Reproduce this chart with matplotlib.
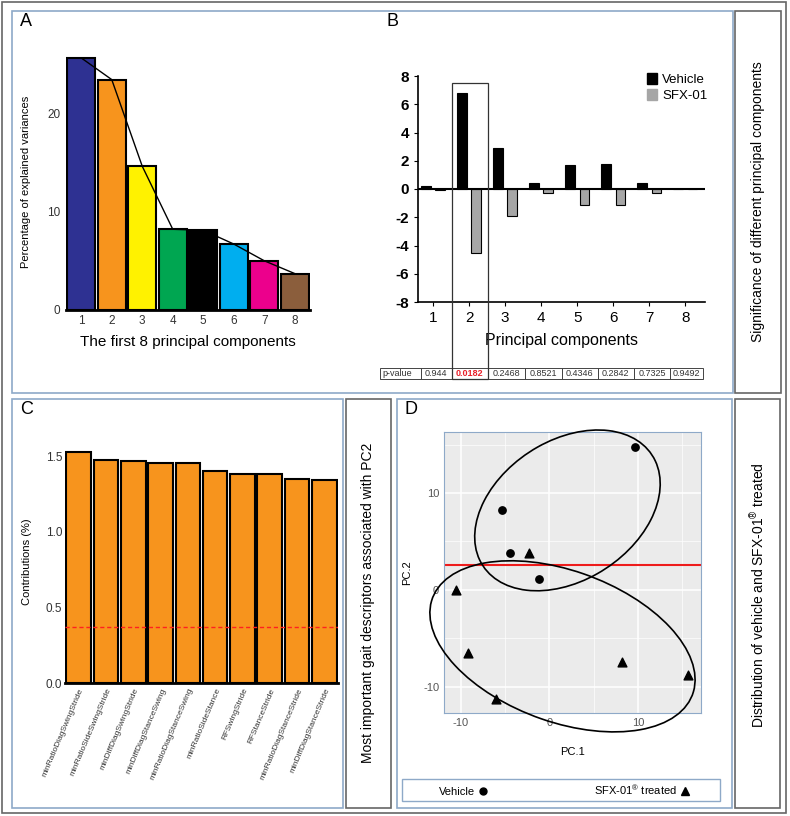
import numpy as np
import matplotlib
matplotlib.use("Agg")
import matplotlib.pyplot as plt
from matplotlib.patches import Rectangle, Ellipse, Patch
from matplotlib.lines import Line2D

plt.rcParams['font.family'] = ['Liberation Sans', 'DejaVu Sans']
plt.rcParams['axes.unicode_minus'] = False
plt.rcParams['mathtext.fontset'] = 'custom'
plt.rcParams['mathtext.rm'] = 'Liberation Sans'

# ---- data ----
pcs = [1, 2, 3, 4, 5, 6, 7, 8]
var_pct = [25.6, 23.4, 14.6, 8.2, 8.1, 6.7, 5.0, 3.7]

vehicle = [0.2, 6.8, 2.9, 0.4, 1.7, 1.8, 0.45, 0.02]
sfx01 = [-0.1, -4.5, -1.9, -0.25, -1.1, -1.15, -0.25, -0.01]
pvalues = ['0.944', '0.0182', '0.2468', '0.8521', '0.4346', '0.2842', '0.7325', '0.9492']

descriptors = ['minRatioDiagSwingStride', 'minRatioSideSwingStride', 'minDiffDiagSwingStride',
               'minDiffDiagStanceSwing', 'minRatioDiagStanceSwing', 'minRatioSideStance',
               'RFSwingStride', 'RFStanceStride', 'minRatioDiagStanceStride',
               'minDiffDiagStanceStride']
contrib = [1.53, 1.475, 1.47, 1.455, 1.455, 1.40, 1.385, 1.385, 1.35, 1.345]
contrib_cutoff = 0.37

veh_pc1 = [9.7, -5.3, -4.5, -1.15]
veh_pc2 = [14.8, 8.2, 3.8, 1.1]
sfx_pc1 = [-2.3, -10.6, -9.2, -6.0, 8.2, 15.6]
sfx_pc2 = [3.8, 0.0, -6.5, -11.3, -7.4, -8.8]
split_pc2 = 2.6
# ellipses: center x, center y, width, height, angle
ell_cx = [2.03, 1.47]
ell_cy = [8.21, -5.82]
ell_w = [22.3, 31.0]
ell_h = [14.7, 15.7]
ell_ang = [27.3, -17.6]

W, H = 790, 816
fig = plt.figure(figsize=(W / 100, H / 100), dpi=100)


def frac(x0, y0, x1, y1):
    return [x0 / W, 1 - y1 / H, (x1 - x0) / W, (y1 - y0) / H]


def box(x0, y0, x1, y1, color, lw=1.0):
    fig.add_artist(Rectangle((x0 / W, 1 - y1 / H), (x1 - x0) / W, (y1 - y0) / H,
                             transform=fig.transFigure, fill=False,
                             edgecolor=color, lw=lw))


def ftext(x, y, s, **kw):
    fig.text(x / W, 1 - y / H, s, **kw)


blue = '#8ea9c8'
gray = '#666666'

# frames
box(2, 2, 786, 813, gray, 1.2)
box(12, 11, 733, 393, blue, 1.2)
box(735, 11, 781, 393, gray, 1.2)
box(12, 399, 343, 808, blue, 1.2)
box(346, 399, 391, 808, gray, 1.2)
box(397, 399, 732, 808, blue, 1.2)
box(735, 399, 780, 808, gray, 1.2)

ftext(20, 22, 'A', size=13, va='center')
ftext(386, 22, 'B', size=13, va='center')
ftext(20, 410, 'C', size=13, va='center')
ftext(405, 410, 'D', size=13, va='center')

ftext(758, 202, 'Significance of different principal components', rotation=90,
      ha='center', va='center', size=10)
ftext(368, 603, 'Most important gait descriptors associated with PC2', rotation=90,
      ha='center', va='center', size=10)
ftext(758, 595, 'Distribution of vehicle and SFX-01$^{®}$ treated', rotation=90,
      ha='center', va='center', size=10)

# ---- A ----
axA = fig.add_axes(frac(66, 54, 310, 310))
colA = ['#2e3192', '#f7941d', '#fff200', '#00a651', '#000000', '#00aeef', '#ec008c', '#8b5e3c']
axA.bar(pcs, var_pct, width=0.93, color=colA, edgecolor='black', lw=1.5)
axA.plot(pcs, var_pct, color='black', lw=1)
axA.set_xlim(0.5, 8.5)
axA.set_ylim(0, 26)
for s in ['top', 'right', 'left']:
    axA.spines[s].set_visible(False)
axA.spines['bottom'].set_linewidth(2)
axA.set_yticks([0, 10, 20])
axA.set_xticks(pcs)
axA.tick_params(axis='both', length=0, labelsize=8.5, labelcolor='#333333')
axA.tick_params(axis='y', pad=4)
axA.set_xlabel('The first 8 principal components', size=11, labelpad=6)
axA.set_ylabel('Percentage of explained variances', size=8, labelpad=12)

# ---- B ----
axB = fig.add_axes(frac(418, 76, 705, 302))
x = np.array(pcs)
axB.bar(x - 0.2, vehicle, width=0.27, color='black', edgecolor='black', lw=0.8, label='Vehicle')
axB.bar(x + 0.2, sfx01, width=0.27, color='#a6a6a6', edgecolor='black', lw=0.8, label='SFX-01')
axB.axhline(0, color='black', lw=1.5)
axB.set_xlim(0.58, 8.55)
axB.set_ylim(-8, 8)
axB.set_yticks(np.arange(-8, 9, 2))
axB.set_xticks(pcs)
for s in ['top', 'right']:
    axB.spines[s].set_visible(False)
axB.spines['left'].set_linewidth(1.2)
axB.spines['bottom'].set_linewidth(1.2)
axB.tick_params(axis='both', length=3, labelsize=11)
for t in axB.get_yticklabels():
    t.set_fontweight('bold')
axB.set_xlabel('Principal components', size=11.5, labelpad=6)
axB.legend(handles=[Patch(color='black', label='Vehicle'), Patch(color='#a6a6a6', label='SFX-01')],
           loc='upper left', bbox_to_anchor=(640 / W, 1 - 66 / H), bbox_transform=fig.transFigure,
           frameon=False, fontsize=9.5, handlelength=0.8, handleheight=0.9,
           handletextpad=0.4, labelspacing=0.25, borderpad=0)

# p-value table
cell_x = [380, 420.7, 451.7, 488, 525, 561.7, 597.7, 634, 670, 703]
for i in range(len(cell_x) - 1):
    box(cell_x[i], 368, cell_x[i + 1], 378.5, '#444444', 0.7)
ftext(382, 373.5, 'p-value', size=6.5, va='center', color='#333333')
for i, p in enumerate(pvalues):
    xc = (cell_x[i + 1] + cell_x[i + 2]) / 2
    if p == '0.0182':
        ftext(xc, 373.5, p, size=6.5, ha='center', va='center', color='#e8202a', weight='bold')
    else:
        ftext(xc, 373.5, p, size=6.5, ha='center', va='center', color='#333333')
box(452, 83, 488, 378.5, '#333333', 0.9)

# ---- C ----
axC = fig.add_axes(frac(65, 441, 338, 683))
xc_pos = np.arange(1, len(contrib) + 1)
axC.bar(xc_pos, contrib, width=0.9, color='#f7941d', edgecolor='black', lw=1.5)
axC.axhline(contrib_cutoff, color='#ff2020', ls=(0, (3, 2)), lw=1)
axC.set_xlim(0.5, 10.5)
axC.set_ylim(0, 1.6)
for s in ['top', 'right', 'left']:
    axC.spines[s].set_visible(False)
axC.spines['bottom'].set_linewidth(2)
axC.set_yticks([0, 0.5, 1.0, 1.5])
axC.set_yticklabels(['0.0', '0.5', '1.0', '1.5'])
axC.set_xticks(xc_pos)
axC.set_xticklabels(descriptors, rotation=67, ha='right', rotation_mode='anchor', size=6)
axC.tick_params(axis='both', length=0, labelcolor='#333333')
axC.tick_params(axis='y', labelsize=8.5, pad=2)
axC.tick_params(axis='x', pad=3)
axC.set_ylabel('Contributions (%)', size=8, labelpad=10)

# ---- D ----
axD = fig.add_axes(frac(444, 432, 701, 713))
axD.set_facecolor('#ebebeb')
axD.set_xlim(-11.9, 17.1)
axD.set_ylim(-12.7, 16.3)
axD.set_xticks([-10, 0, 10])
axD.set_yticks([-10, 0, 10])
axD.set_xticks([-5, 5, 15], minor=True)
axD.set_yticks([-5, 5, 15], minor=True)
axD.grid(which='major', color='white', lw=1.1)
axD.grid(which='minor', color='white', lw=0.5)
axD.set_axisbelow(True)
for s in axD.spines.values():
    s.set_color(blue)
axD.tick_params(which='both', length=0, labelsize=8, labelcolor='#555555')
axD.axhline(split_pc2, color='#ee1c1c', lw=1.5)
axD.scatter(veh_pc1, veh_pc2, marker='o', s=28, color='black', zorder=3)
axD.scatter(sfx_pc1, sfx_pc2, marker='^', s=40, color='black', zorder=3)
for i in range(len(ell_cx)):
    axD.add_patch(Ellipse((ell_cx[i], ell_cy[i]), ell_w[i], ell_h[i], angle=ell_ang[i],
                          fill=False, edgecolor='black', lw=1.2, clip_on=False, zorder=4))
axD.set_xlabel('PC.1', size=8, labelpad=14)
axD.set_ylabel('PC.2', size=8, labelpad=8)

box(402, 779, 720, 801, blue, 1.0)
fig.legend(handles=[Line2D([], [], marker='o', ls='', color='black', ms=5, label='Vehicle'),
                    Line2D([], [], marker='^', ls='', color='black', ms=6,
                           label='SFX-01$^{®}$ treated')],
           ncol=2, markerfirst=False, loc='center', bbox_to_anchor=(565 / W, 1 - 790 / H),
           frameon=False, fontsize=8, columnspacing=9.5, handletextpad=0.2, handlelength=1)

fig.savefig('out.png', dpi=100)
